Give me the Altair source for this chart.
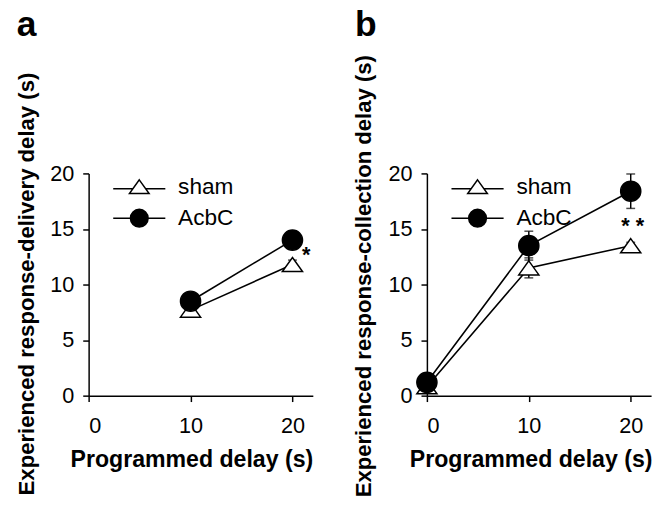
import altair as alt
import pandas as pd

FONT = "Liberation Sans"

groups = ["sham", "AcbC"]
x_ticks = [0, 10, 20]
y_ticks = [0, 5, 10, 15, 20]

# panel a: experienced response-delivery delay
delays_a = [10, 20]
sham_a = [7.7, 11.8]
sham_a_err = [0.4, 0.4]
acbc_a = [8.5, 14.0]
acbc_a_err = [0.6, 0.8]
sig_a_delay = [20]
sig_a_text = ["*"]

# panel b: experienced response-collection delay
delays_b = [0, 10, 20]
sham_b = [0.8, 11.5, 13.5]
sham_b_err = [0.2, 0.9, 0.3]
acbc_b = [1.2, 13.5, 18.4]
acbc_b_err = [0.3, 1.3, 1.55]
sig_b_delay = [20]
sig_b_text = ["* *"]

TRI = "M0,-0.7L1,0.7L-1,0.7Z"
LEG_TRI = "M-2.65,0.2H-0.64M0.64,0.2H2.65M0,-0.7L1,0.7L-1,0.7Z"
LEG_CIR = "M-2.65,0H2.65M0.9,0A0.9,0.9,0,1,1,-0.9,0A0.9,0.9,0,1,1,0.9,0Z"


def make_df(delays, sham, sham_err, acbc, acbc_err):
    rows = []
    for g, vals, errs in [(groups[0], sham, sham_err), (groups[1], acbc, acbc_err)]:
        for d, v, e in zip(delays, vals, errs):
            rows.append({"delay": d, "value": v, "lo": v - e, "hi": v + e, "group": g, "grp": g})
    return pd.DataFrame(rows)


def panel(df, sig_df, letter, title_offset, ytitle, ytitle_x, ytitle_y, xtitle_x, sig_dx, sig_dy):
    xs = alt.Scale(domain=[0, 22], nice=False, zero=False)
    ys = alt.Scale(domain=[0, 20], nice=False)
    x = alt.X("delay:Q", scale=xs, axis=alt.Axis(
        values=x_ticks, title="Programmed delay (s)", titleX=xtitle_x, titleY=72,
        titleBaseline="alphabetic", titleAlign="center", titleFontSize=23.5,
        labelPadding=14, tickSize=6, format="d"))
    y = alt.Y("value:Q", scale=ys, axis=alt.Axis(
        values=y_ticks, title=ytitle, titleX=ytitle_x, titleY=ytitle_y,
        titleBaseline="alphabetic", titleAlign="center", titleAngle=-90,
        labelPadding=9, tickSize=6, format="d"))

    lines = alt.Chart(df).mark_line(color="black", strokeWidth=1.6).encode(
        x=x, y=y, detail="group:N")
    rules = alt.Chart(df).mark_rule(color="black", strokeWidth=1.5).encode(
        x="delay:Q", y="lo:Q", y2="hi:Q")
    cap_lo = alt.Chart(df).mark_tick(color="black", orient="horizontal", size=9, thickness=1.5).encode(
        x="delay:Q", y="lo:Q")
    cap_hi = alt.Chart(df).mark_tick(color="black", orient="horizontal", size=9, thickness=1.5).encode(
        x="delay:Q", y="hi:Q")
    points = alt.Chart(df).mark_point(filled=True, size=420, stroke="black", strokeWidth=1.5, opacity=1).encode(
        x="delay:Q", y="value:Q",
        shape=alt.Shape("grp:N", scale=alt.Scale(domain=groups, range=[TRI, "circle"]), legend=None),
        fill=alt.Fill("grp:N", scale=alt.Scale(domain=groups, range=["white", "black"]), legend=None))
    legend_layer = alt.Chart(df).transform_filter("false").mark_point(
        filled=True, size=400, stroke="black", strokeWidth=1.5, opacity=1).encode(
        x="delay:Q", y="value:Q",
        shape=alt.Shape("group:N", scale=alt.Scale(domain=groups, range=[LEG_TRI, LEG_CIR])),
        fill=alt.Fill("group:N", scale=alt.Scale(domain=groups, range=["white", "black"]),
                      legend=alt.Legend(
                          orient="none", legendX=40, legendY=2, title=None, direction="vertical",
                          labelFont=FONT, labelFontSize=23, labelColor="black", labelOffset=28,
                          symbolSize=400, symbolStrokeWidth=1.5, symbolStrokeColor="black",
                          rowPadding=7)))
    sig = alt.Chart(sig_df).mark_text(font=FONT, fontSize=22, fontWeight="bold", color="black",
                                      dx=sig_dx, dy=sig_dy).encode(
        x="delay:Q", y="value:Q", text="text:N")

    return alt.layer(lines, rules, cap_lo, cap_hi, points, legend_layer, sig).resolve_scale(
        shape="independent", fill="independent").properties(
        width=228, height=226,
        title=alt.TitleParams(letter, anchor="start", frame="group", fontSize=36, fontWeight="bold",
                              font=FONT, color="black", dx=-73, offset=title_offset,
                              baseline="alphabetic"))


df_a = make_df(delays_a, sham_a, sham_a_err, acbc_a, acbc_a_err)
df_b = make_df(delays_b, sham_b, sham_b_err, acbc_b, acbc_b_err)

sig_df_a = pd.DataFrame({"delay": sig_a_delay, "text": sig_a_text, "value": [sham_a[-1]]})
sig_df_b = pd.DataFrame({"delay": sig_b_delay, "text": sig_b_text, "value": [sham_b[-1]]})

pa = panel(df_a, sig_df_a, "a", 1, "Experienced response-delivery delay (s)", -56, 112, 104.5, 14, -10)
pb = panel(df_b, sig_df_b, "b", -17, "Experienced response-collection delay (s)", -57, 104, 105.5, 2, -20)

chart = alt.hconcat(pa, pb, spacing=40).resolve_scale(
    fill="independent", shape="independent").resolve_legend(
    fill="independent", shape="independent").properties(
    padding={"left": 7, "top": -6, "right": 5, "bottom": 5}
).configure_view(stroke=None).configure_axis(
    grid=False, domainColor="black", domainWidth=1.5, tickColor="black", tickWidth=1.5,
    labelFont=FONT, labelFontSize=22, labelColor="black",
    titleFont=FONT, titleFontSize=22.5, titleFontWeight="bold", titleColor="black"
)

chart.save("out.html", embed_options={"renderer": "svg", "actions": False})
